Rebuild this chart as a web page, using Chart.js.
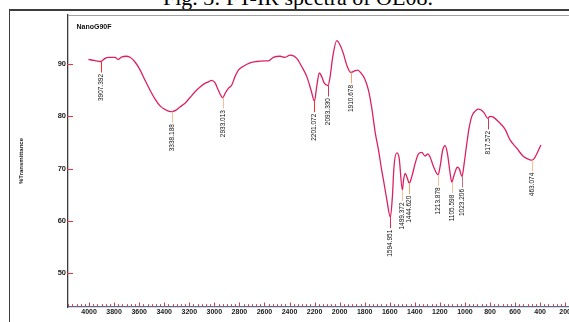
<!DOCTYPE html>
<html>
<head>
<meta charset="utf-8">
<script src="https://cdn.jsdelivr.net/npm/chart.js@4.4.1/dist/chart.umd.min.js"></script>
<style>
  html, body { margin: 0; padding: 0; background: #fff; overflow: hidden; width: 569px; height: 322px; }
  #caption { position: absolute; left: 163px; top: -13px; font: 22px/22px "Liberation Serif", "Times New Roman", serif; color: #000; white-space: nowrap; }
  #frame { position: absolute; left: 9px; top: 9px; width: 700px; height: 400px; border-top: 2px solid #3c3c3c; border-left: 1.5px solid #3c3c3c; }
  #wrap { position: absolute; left: 0; top: 0; width: 572px; height: 322px; }
</style>
</head>
<body>
<div id="caption">Fig. 3: FT-IR spectra of OE08.</div>
<div id="frame"></div>
<div id="wrap"><canvas id="ir" width="572" height="322"></canvas></div>
<script>
// Sample name shown in the plot corner
const SAMPLE_NAME = 'NanoG90F';

// Spectrum: wavenumber (cm-1) and % transmittance
const SPECTRUM_WN = [
  4005, 3960, 3872, 3846, 3792, 3769, 3737, 3705, 3673, 3633, 3593, 3553, 3513, 3473,
  3433, 3393, 3360, 3306, 3274, 3234, 3194, 3154, 3114, 3075, 3048, 3021, 2994, 2968,
  2914, 2888, 2861, 2835, 2808, 2768, 2715, 2661, 2600, 2569, 2529, 2475, 2436, 2396,
  2342, 2302, 2262, 2228, 2183, 2162, 2143, 2124, 2076, 2055, 2023, 1996, 1970, 1943,
  1880, 1856, 1830, 1800, 1770, 1743, 1716, 1690, 1663, 1650, 1623, 1579, 1566, 1544,
  1525, 1490, 1477, 1459, 1424, 1397, 1371, 1344, 1318, 1296, 1278, 1251, 1198, 1177,
  1158, 1140, 1118, 1086, 1060, 1044, 1006, 985, 968, 945, 918, 895, 870, 845, 800,
  777, 733, 679, 640, 586, 533, 493, 440, 394
];
const SPECTRUM_T = [
  90.9, 90.7, 91.1, 91.3, 91.3, 90.9, 91.4, 91.5, 91.3, 90.4, 88.9, 86.9, 85.0, 83.3,
  82.0, 81.3, 80.95, 81.2, 81.8, 82.5, 83.6, 84.7, 85.6, 86.3, 86.6, 86.9, 86.4, 85.0,
  84.4, 85.35, 86.0, 87.6, 88.85, 89.6, 90.25, 90.5, 90.6, 90.6, 91.3, 91.5, 91.3, 91.7,
  91.1, 89.5, 87.6, 85.0, 85.7, 88.3, 87.6, 86.4, 87.6, 91.4, 94.5, 93.6, 92.0, 89.8,
  88.7, 88.85, 88.3, 87.2, 85.0, 81.5, 76.9, 73.6, 69.5, 67.8, 64.0, 64.6, 70.4, 73.0,
  72.0, 67.8, 69.1, 68.1, 68.45, 71.0, 72.8, 73.1, 72.4, 72.8, 72.2, 70.4, 70.4, 73.6,
  74.4, 72.9, 69.1, 68.8, 70.25, 69.9, 71.0, 74.8, 77.6, 80.0, 81.0, 81.4, 81.2, 80.6, 80.0,
  79.9, 79.0, 77.5, 75.5, 73.9, 72.3, 71.8, 72.2, 74.5
];

// Labelled peaks
const PEAK_WN = [3907.392, 3338.188, 2933.013, 2201.072, 2093.330, 1910.678, 1594.951,
                 1499.372, 1444.620, 1213.878, 1105.598, 1023.206, 817.572, 463.074];
const PEAK_T  = [90.5, 80.9, 83.6, 82.9, 85.9, 88.4, 60.7,
                 65.9, 67.2, 68.8, 67.4, 68.5, 79.6, 71.6];
const PEAK_LINE_COLORS = ['#ff2a2a', '#f9bf98', '#f9bf98', '#ff2a2a', '#d0384f', '#f5a46c', '#e0304a',
                          '#f9bf98', '#f5a46c', '#f9bf98', '#f9bf98', '#cf6d7c', '#d0384f', '#f9bf98'];

// Axis tick labels
const X_TICKS = [4000, 3800, 3600, 3400, 3200, 3000, 2800, 2600, 2400, 2200, 2000,
                 1800, 1600, 1400, 1200, 1000, 800, 600, 400, 200];
const Y_TICKS = [50, 60, 70, 80, 90];

// Merge spectrum and peak points into one ordered trace
const trace = SPECTRUM_WN.map((w, i) => ({ x: w, y: SPECTRUM_T[i] }))
  .concat(PEAK_WN.map((w, i) => ({ x: w, y: PEAK_T[i] })))
  .sort((a, b) => b.x - a.x);

const TICK_RED = '#e8323c';

const decor = {
  id: 'decor',
  afterDraw(chart) {
    const { ctx, chartArea: a, scales: { x, y } } = chart;
    ctx.save();

    // plot frame top edge
    ctx.strokeStyle = '#a0a0a0';
    ctx.lineWidth = 1;
    ctx.beginPath();
    ctx.moveTo(a.left, a.top + 0.5);
    ctx.lineTo(a.right, a.top + 0.5);
    ctx.stroke();

    // x tick marks: six subdivisions per 200 cm-1, pointing up into the plot
    ctx.strokeStyle = TICK_RED;
    ctx.lineWidth = 1;
    const step = 200 / 6;
    for (let i = -6; i < 130; i++) {
      const v = 4000 - i * step;
      if (v > x.max || v < x.min) continue;
      const px = Math.round(x.getPixelForValue(v)) + 0.5;
      const len = (i % 6 === 0) ? 3.5 : 1.8;
      ctx.beginPath();
      ctx.moveTo(px, a.bottom - 1);
      ctx.lineTo(px, a.bottom - 1 - len);
      ctx.stroke();
    }

    // y tick marks
    Y_TICKS.forEach(v => {
      const py = Math.round(y.getPixelForValue(v)) + 0.5;
      ctx.beginPath();
      ctx.moveTo(a.left - 1, py);
      ctx.lineTo(a.left + 5, py);
      ctx.stroke();
    });

    // peak markers with rotated wavenumber labels
    ctx.font = '6.5px "Liberation Sans", Arial, sans-serif';
    ctx.fillStyle = '#111';
    ctx.textAlign = 'right';
    ctx.textBaseline = 'middle';
    PEAK_WN.forEach((w, i) => {
      const px = Math.round(x.getPixelForValue(w)) + 0.5;
      const py = y.getPixelForValue(PEAK_T[i]);
      const end = py + 11;
      ctx.strokeStyle = PEAK_LINE_COLORS[i];
      ctx.lineWidth = 1;
      ctx.beginPath();
      ctx.moveTo(px, py);
      ctx.lineTo(px, end);
      ctx.stroke();
      ctx.save();
      ctx.translate(px, end + 1.5);
      ctx.rotate(-Math.PI / 2);
      ctx.fillText(w.toFixed(3), 0, 0);
      ctx.restore();
    });

    // sample name
    ctx.font = 'bold 7px "Liberation Sans", Arial, sans-serif';
    ctx.textAlign = 'left';
    ctx.textBaseline = 'middle';
    ctx.fillStyle = '#111';
    ctx.fillText(SAMPLE_NAME, 76.5, 27);

    ctx.restore();
  }
};

new Chart(document.getElementById('ir'), {
  type: 'line',
  data: {
    datasets: [{
      data: trace,
      borderColor: '#dc2160',
      borderWidth: 1.3,
      pointRadius: 0,
      fill: false,
      cubicInterpolationMode: 'monotone'
    }]
  },
  options: {
    responsive: false,
    animation: false,
    events: [],
    layout: { padding: { top: 15, left: 0, right: 0, bottom: 0 } },
    plugins: { legend: { display: false }, tooltip: { enabled: false }, title: { display: false } },
    scales: {
      x: {
        type: 'linear',
        reverse: true,
        min: 150,
        max: 4168,
        afterFit(s) { s.height = 15; },
        afterBuildTicks(s) { s.ticks = X_TICKS.map(v => ({ value: v })); },
        ticks: {
          autoSkip: false,
          maxRotation: 0,
          padding: 1,
          color: '#1a1a1a',
          font: { family: '"Liberation Sans", Arial, sans-serif', size: 7, weight: 'bold' },
          callback: v => String(v)
        },
        grid: { display: false, drawTicks: false, tickLength: 0 },
        border: { display: true, color: '#5d6a8e', width: 1.3 }
      },
      y: {
        min: 43.5,
        max: 99.4,
        afterFit(s) { s.width = 68; },
        afterBuildTicks(s) { s.ticks = Y_TICKS.map(v => ({ value: v })); },
        ticks: {
          padding: 2,
          color: '#1a1a1a',
          font: { family: '"Liberation Sans", Arial, sans-serif', size: 7.5, weight: 'bold' },
          callback: v => String(v)
        },
        grid: { display: false, drawTicks: false, tickLength: 0 },
        border: { display: true, color: '#3a3a3a', width: 1.3 },
        title: {
          display: true,
          text: '%Transmittance',
          color: '#1a1a1a',
          font: { family: '"Liberation Sans", Arial, sans-serif', size: 6, weight: 'bold' },
          padding: { top: 18, bottom: 0 }
        }
      }
    }
  },
  plugins: [decor]
});
</script>
</body>
</html>
